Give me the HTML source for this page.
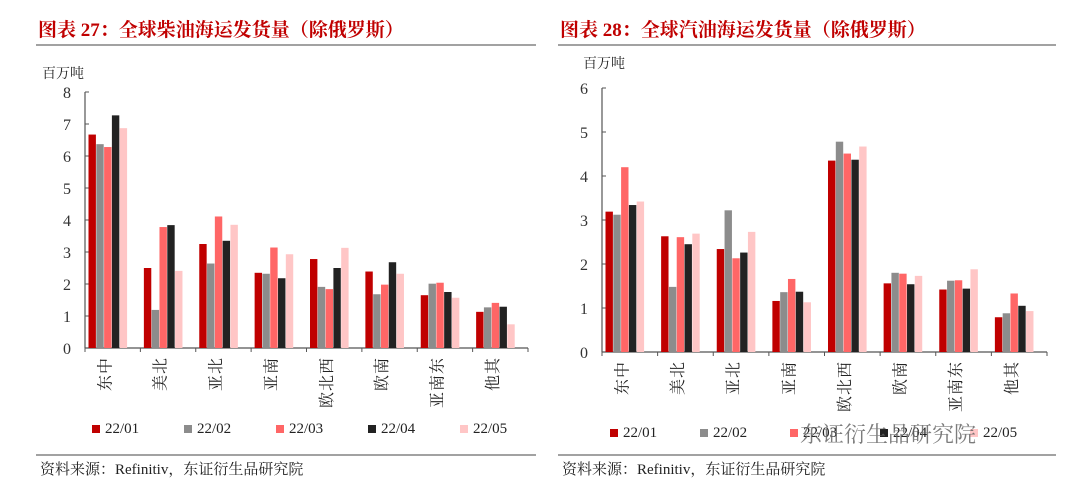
<!DOCTYPE html>
<html><head><meta charset="utf-8"><style>
body{margin:0;background:#fff;}
svg text{font-family:"Liberation Serif","Noto Serif CJK SC",serif;}
</style></head><body>
<svg id="s" width="1080" height="480" xmlns="http://www.w3.org/2000/svg">
<text x="38" y="36" font-size="19" font-weight="bold" fill="#c00000">图表 27：全球柴油海运发货量（除俄罗斯）</text>
<line x1="36" y1="45" x2="536" y2="45" stroke="#444" stroke-width="1"/>
<text x="560" y="36" font-size="19" font-weight="bold" fill="#c00000">图表 28：全球汽油海运发货量（除俄罗斯）</text>
<line x1="558" y1="45" x2="1056" y2="45" stroke="#444" stroke-width="1"/>
<text x="42" y="78" font-size="14" fill="#222">百万吨</text>
<text x="583" y="68" font-size="14" fill="#222">百万吨</text>
<line x1="36" y1="455" x2="536" y2="455" stroke="#444"/>
<line x1="558" y1="455" x2="1056" y2="455" stroke="#444"/>
<text x="40" y="474" font-size="15" fill="#222">资料来源：Refinitiv，东证衍生品研究院</text>
<text x="562" y="474" font-size="15" fill="#222">资料来源：Refinitiv，东证衍生品研究院</text>
</svg>
<script>
const categories=["中东","北美","北亚","南亚","西北欧","南欧","东南亚","其他"];
const seriesNames=["22/01","22/02","22/03","22/04","22/05"];
const dieselS1=[6.67,2.5,3.25,2.35,2.78,2.39,1.65,1.13];
const dieselS2=[6.37,1.19,2.64,2.32,1.91,1.68,2.01,1.27];
const dieselS3=[6.28,3.78,4.11,3.14,1.84,1.98,2.04,1.41];
const dieselS4=[7.27,3.84,3.35,2.18,2.5,2.68,1.75,1.29];
const dieselS5=[6.87,2.41,3.85,2.93,3.13,2.32,1.57,0.74];
const gasS1=[3.19,2.63,2.34,1.16,4.35,1.56,1.42,0.79];
const gasS2=[3.12,1.48,3.22,1.36,4.78,1.8,1.62,0.88];
const gasS3=[4.2,2.61,2.13,1.66,4.51,1.78,1.63,1.33];
const gasS4=[3.34,2.45,2.26,1.37,4.37,1.54,1.44,1.05];
const gasS5=[3.42,2.69,2.73,1.13,4.67,1.73,1.88,0.93];
const leftTicks=[0,1,2,3,4,5,6,7,8];
const rightTicks=[0,1,2,3,4,5,6];
const colors=["#c00000","#8c8c8c","#ff6666","#222222","#ffc6c6"];
const NS="http://www.w3.org/2000/svg";
const svg=document.getElementById('s');
function mk(t,a,p){const e=document.createElementNS(NS,t);for(const k in a)e.setAttribute(k,a[k]);(p||svg).appendChild(e);return e;}
function chart(cfg){
 const g=mk('g',{});
 
 
 const max=cfg.ticks[cfg.ticks.length-1];
 const y=v=>cfg.y0-(cfg.y0-cfg.y1)*v/max;
 const cw=(cfg.x1-cfg.x0)/categories.length;
 const x=i=>cfg.x0+cw*i;
 const ax=mk('line',{x1:cfg.x0,y1:cfg.y0,x2:cfg.x0,y2:cfg.y1,stroke:'#555','stroke-width':1.2},g);
 
 
 const bx=mk('line',{x1:cfg.x0,y1:cfg.y0,x2:cfg.x1,y2:cfg.y0,stroke:'#555','stroke-width':1.2},g);
 
 
 cfg.ticks.forEach(t=>{
  mk('line',{x1:cfg.x0,y1:y(t),x2:cfg.x0+4,y2:y(t),stroke:'#555'},g);
  const tx=mk('text',{x:cfg.x0-14,y:y(t)+6,'font-size':16,'text-anchor':'end',fill:'#333'},g);
  tx.textContent=t;
  
  
 });
 for(let i=0;i<=categories.length;i++)mk('line',{x1:x(i),y1:cfg.y0,x2:x(i),y2:cfg.y0+4,stroke:'#555'},g);
 const bw=7.8;
 cfg.series.forEach((s,si)=>{
  s.forEach((v,i)=>{
   const r=mk('rect',{x:x(i)+3.5+si*bw,y:y(v),width:bw-0.4,height:cfg.y0-y(v),fill:colors[si]},g);
   
   
  });
 });
 categories.forEach((c,i)=>{
  const cx=x(i)+cw/2;
  [...c].forEach((ch,k)=>{
   const t=mk('text',{x:cx,y:cfg.y0+12+k*17,'font-size':16,fill:'#222','text-anchor':'middle',transform:`rotate(-90 ${cx} ${cfg.y0+12+k*17+6})`,'dominant-baseline':'middle'},g);
   t.textContent=ch;
   
   
  });
 });
 seriesNames.forEach((n,si)=>{
  const lx=cfg.lx+si*cfg.lstep;
  const r=mk('rect',{x:lx,y:cfg.ly-8,width:8,height:8,fill:colors[si]},g);
  
  
  const t=mk('text',{x:lx+13,y:cfg.ly,'font-size':15,fill:'#222'},g);
  t.textContent=n;
  
  
 });
}
chart({name:'diesel-chart',x0:85,x1:528,y0:348,y1:92,ticks:leftTicks,series:[dieselS1,dieselS2,dieselS3,dieselS4,dieselS5],lx:92,ly:433,lstep:92});
chart({name:'gasoline-chart',x0:602,x1:1047,y0:352,y1:88,ticks:rightTicks,series:[gasS1,gasS2,gasS3,gasS4,gasS5],lx:610,ly:437,lstep:90});
const wm=mk('text',{x:800,y:442,'font-size':22,fill:'#666',opacity:0.85});
wm.textContent='东证衍生品研究院';


</script>
</body></html>
